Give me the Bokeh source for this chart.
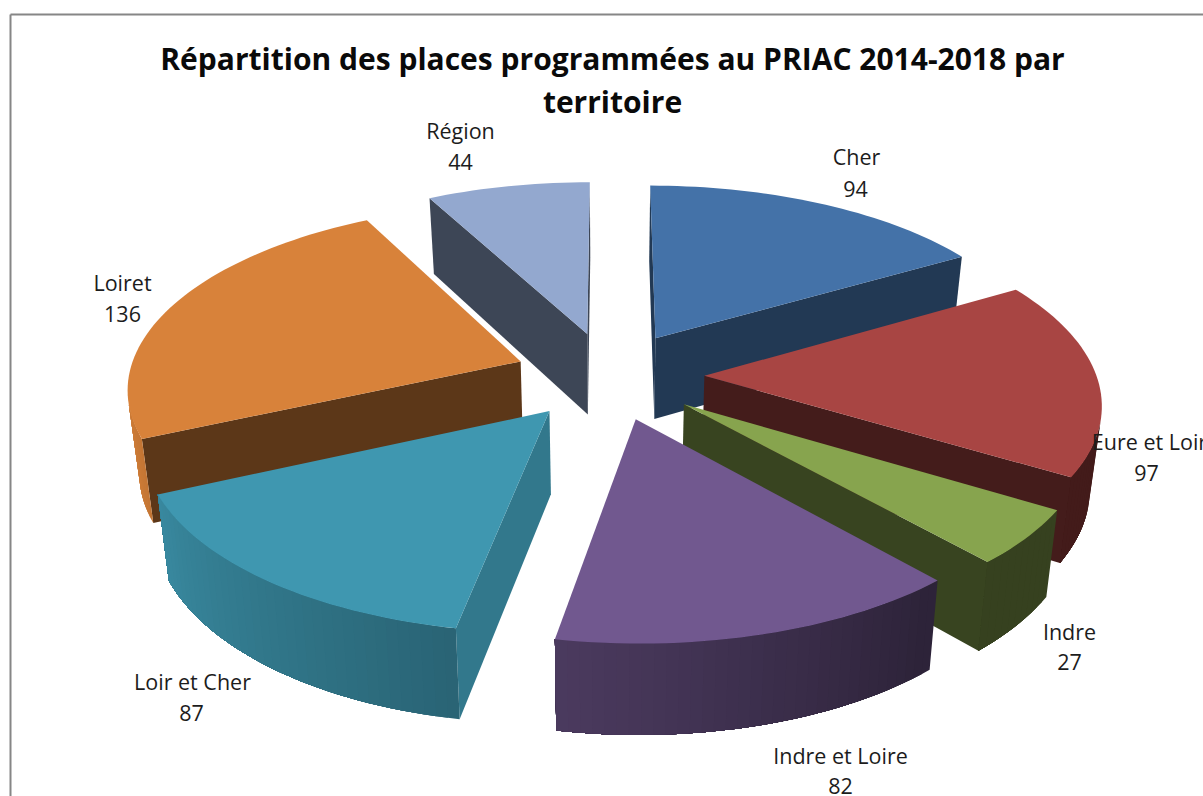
import math
from bokeh.plotting import figure
from bokeh.embed import file_html
from bokeh.resources import INLINE
from bokeh.core.properties import value

categories = ["Cher", "Eure et Loir", "Indre", "Indre et Loire", "Loir et Cher", "Loiret", "Région"]
values = [94, 97, 27, 82, 87, 136, 44]
title_lines = ["Répartition des places programmées au PRIAC 2014-2018 par", "territoire"]

top_colors = ["#4472a8", "#a84543", "#87a44e", "#71588f", "#3f97b0", "#d8823a", "#93a8cf"]
wall_shade = [0.50, 0.41, 0.42, 0.42, 0.80, 0.43, 0.42]
label_pos = [(856, 156), (1149, 441), (1069, 631), (840, 755), (192, 681), (122, 282), (460, 130)]
value_pos = [(855, 188), (1146, 472), (1069, 661), (840, 785), (191, 712), (122, 313), (460, 161)]

# projection constants (screen pixels)
CX, CY, A, B, K, KZ, C, EXPLODE = 609, 375, 392, 182, 0.132, 0.025, 82, 0.242


def proj(x, y, bottom=False):
    d = 1 + K * y
    w = d * (1 + KZ) if bottom else d
    sy = CY - B * y / w + (C / d if bottom else 0)
    return CX + A * x / w, sy


def shade(hex_color, f):
    r, g, b = [int(hex_color[i:i + 2], 16) for i in (1, 3, 5)]
    if f > 1:
        f = 1
    return "#%02x%02x%02x" % (int(r * f), int(g * f), int(b * f))


def rim_shade(deg):
    pts = [(0, .5), (90, .4), (140, .4), (180, .62), (240, .88), (265, 1.0), (360, 1.0)]
    for (a, fa), (b, fb) in zip(pts, pts[1:]):
        if a <= deg <= b:
            return fa + (fb - fa) * (deg - a) / (b - a)
    return 1.0


def visible(q):
    s = 0
    for i in range(len(q)):
        x0, y0 = q[i]
        x1, y1 = q[(i + 1) % len(q)]
        s += x0 * y1 - x1 * y0
    return s < 0


total = sum(values)
slices = []
start = 0.0
for i, v in enumerate(values):
    sweep = 360.0 * v / total
    slices.append((i, start, start + sweep))
    start += sweep

slices.sort(key=lambda s: -math.cos(math.radians((s[1] + s[2]) / 2)))

xs, ys, fills = [], [], []


def add(poly, color):
    xs.append([p[0] for p in poly])
    ys.append([p[1] for p in poly])
    fills.append(color)


for i, a0, a1 in slices:
    mid = math.radians((a0 + a1) / 2)
    ox, oy = EXPLODE * math.sin(mid), EXPLODE * math.cos(mid)
    n = max(4, int((a1 - a0) / 1.5))
    angs = [a0 + (a1 - a0) * j / n for j in range(n + 1)]
    rim = [(ox + math.sin(math.radians(t)), oy + math.cos(math.radians(t))) for t in angs]
    tops = [proj(*p) for p in rim]
    bots = [proj(*p, bottom=True) for p in rim]
    apex_t, apex_b = proj(ox, oy), proj(ox, oy, bottom=True)
    wall_col = shade(top_colors[i], wall_shade[i])
    for q in ([apex_t, tops[0], bots[0], apex_b], [tops[-1], apex_t, apex_b, bots[-1]]):
        if visible(q):
            add(q, wall_col)
    # rim: each strip runs to the end of the visible run and is overpainted by the
    # next one, so that no seam shows between neighbouring shades
    seg = [j for j in range(n) if visible([tops[j], tops[j + 1], bots[j + 1], bots[j]])]
    for j in seg:
        last = seg[-1] + 1
        q = tops[j:last + 1] + bots[j:last + 1][::-1]
        add(q, shade(top_colors[i], rim_shade((angs[j] + angs[j + 1]) / 2)))
    add([apex_t] + tops, top_colors[i])

p = figure(width=1203, height=796, x_range=(0, 1203), y_range=(796, 0),
           output_backend="svg", toolbar_location=None, min_border=0,
           background_fill_color="white", border_fill_color="white", outline_line_color=None)
p.axis.visible = False
p.grid.visible = False

p.line([10, 10], [796, 14], line_color="#868686", line_width=2)
p.line([10, 1203], [14, 14], line_color="#868686", line_width=2)

p.patches(xs, ys, fill_color=fills, line_color=None)

for k, line in enumerate(title_lines):
    p.text([612], [58 + 43 * k], text=[line], text_font=value("Open Sans"), text_font_style="bold",
           text_font_size="30px", text_align="center", text_baseline="middle", text_color="#0a0a0a")

p.text([q[0] for q in label_pos], [q[1] for q in label_pos], text=categories,
       text_font=value("Open Sans"), text_font_size="21.5px", text_align="center",
       text_baseline="middle", text_color="#1c1c1c")
p.text([q[0] for q in value_pos], [q[1] for q in value_pos], text=[str(v) for v in values],
       text_font=value("Open Sans"), text_font_size="21.5px", text_align="center",
       text_baseline="middle", text_color="#1c1c1c")

open("out.html", "w").write(file_html(p, INLINE))
